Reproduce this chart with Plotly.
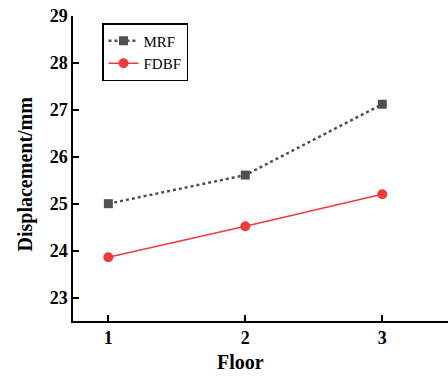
import plotly.graph_objects as go

floors = [1, 2, 3]
mrf = [25.0, 25.61, 27.12]
fdbf = [23.86, 24.52, 25.2]
yticks = [23, 24, 25, 26, 27, 28, 29]
xticks = [1, 2, 3]

font = "Liberation Serif, Times New Roman, serif"
W, H = 448, 377
L, R, T, B = 73, 0, 16, 56

fig = go.Figure()
fig.add_trace(go.Scatter(x=floors, y=mrf, name="MRF", mode="lines+markers",
                         line=dict(color="#505050", width=2.5, dash="dot"),
                         marker=dict(symbol="square", size=9, color="#505050")))
fig.add_trace(go.Scatter(x=floors, y=fdbf, name="FDBF", mode="lines+markers",
                         line=dict(color="#EE3B3B", width=1.6),
                         marker=dict(symbol="circle", size=10, color="#EE3B3B")))

pw, ph = W - L - R, H - T - B
def px(x):
    return (x - L) / pw
def py(y):
    return (H - B - y) / ph

fig.update_layout(
    width=W, height=H,
    margin=dict(l=L, r=R, t=T, b=B),
    plot_bgcolor="white", paper_bgcolor="white",
    font=dict(family=font, color="black"),
    showlegend=True,
    legend=dict(x=px(102), y=py(23), xanchor="left", yanchor="top",
                bordercolor="black", borderwidth=1.5, bgcolor="white",
                font=dict(size=15, family=font), tracegroupgap=0,
                itemwidth=30),
    xaxis=dict(range=[0.742, 3.48], tickvals=xticks, ticks="inside", ticklen=6,
               tickwidth=1.5, tickcolor="black",
               showline=True, linecolor="black", linewidth=1.5, showgrid=False,
               zeroline=False,
               tickfont=dict(size=18, family=font, weight="bold")),
    yaxis=dict(range=[22.5, 29], tickvals=yticks, ticks="inside", ticklen=6,
               tickwidth=1.5, tickcolor="black",
               showline=True, linecolor="black", linewidth=1.5, showgrid=False,
               zeroline=False,
               tickfont=dict(size=18, family=font, weight="bold")),
    annotations=[
        dict(text="<b>Floor</b>", x=px(240), y=py(362), xref="paper", yref="paper",
             xanchor="center", yanchor="middle", showarrow=False,
             font=dict(size=20, family=font)),
        dict(text="<b>Displacement/mm</b>", x=px(25), y=py(174.5), xref="paper", yref="paper",
             xanchor="center", yanchor="middle", showarrow=False, textangle=-90,
             font=dict(size=20, family=font)),
    ],
)

fig.write_html("out.html")
